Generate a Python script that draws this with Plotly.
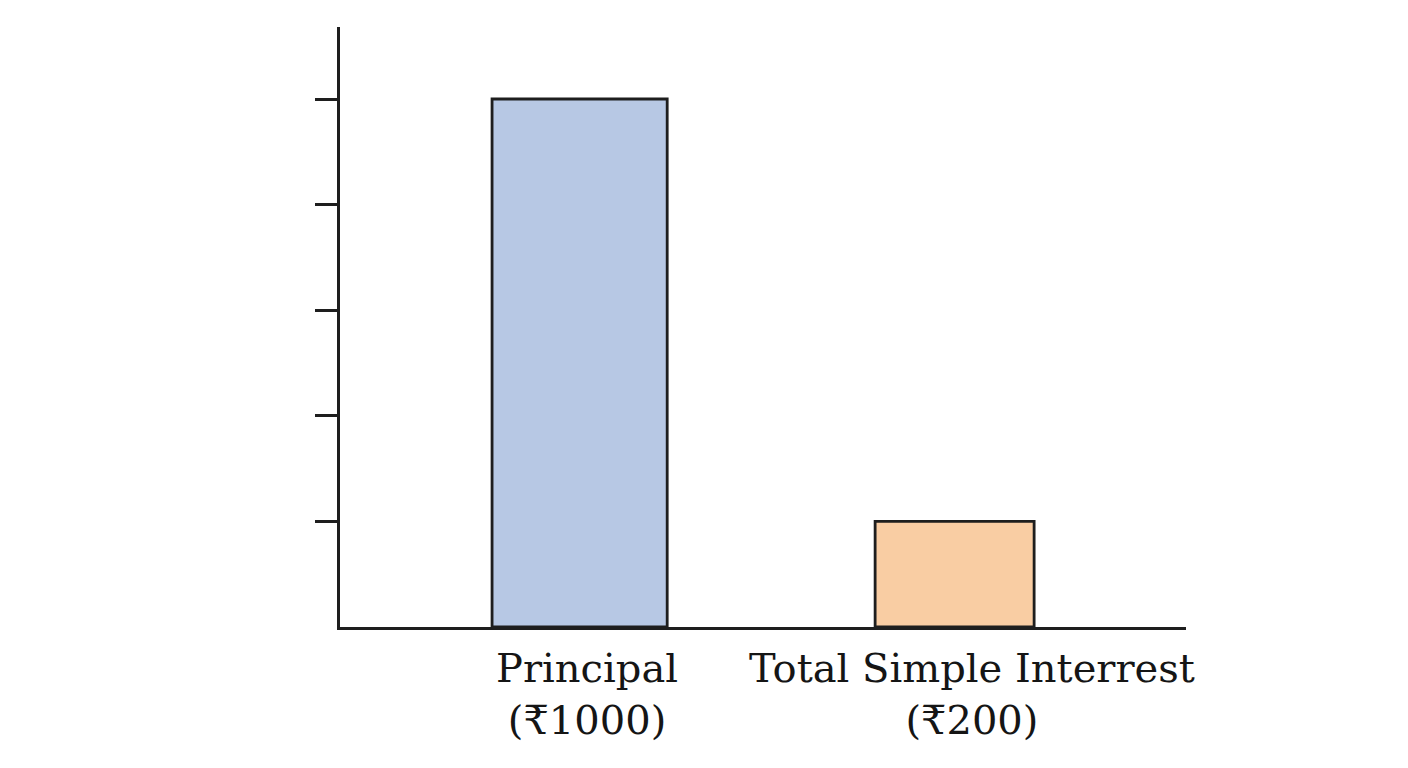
import plotly.graph_objects as go

categories = ["Principal", "Total Simple Interrest"]
label_amounts = ["(₹1000)", "(₹200)"]
values = [1000, 200]
bar_colors = ["#b7c8e4", "#f9cda3"]
bar_widths = [0.467, 0.424]
y_ticks = [200, 400, 600, 800, 1000]

fig = go.Figure()
fig.add_trace(go.Bar(
    x=categories,
    y=values,
    width=bar_widths,
    marker=dict(color=bar_colors, line=dict(color="#1e1e1e", width=2.8)),
    showlegend=False,
    hoverinfo="skip",
))

label_shifts = [7, 17]
for cat, amt, sh in zip(categories, label_amounts, label_shifts):
    fig.add_annotation(
        x=cat, y=0, xref="x", yref="paper",
        text=f"{cat}<br>{amt}",
        showarrow=False, xanchor="center", yanchor="top",
        xshift=sh, yshift=-16,
        font=dict(family="DejaVu Serif, Noto Serif, serif", size=40, color="#151515"),
    )

fig.update_layout(
    width=1408, height=768,
    margin=dict(l=332, r=230, t=19, b=149),
    paper_bgcolor="white", plot_bgcolor="white",
    xaxis=dict(
        type="category",
        range=[-0.639, 1.617],
        showticklabels=False, ticks="",
        showline=True, linecolor="#1e1e1e", linewidth=2.8,
        showgrid=False, zeroline=False,
    ),
    yaxis=dict(
        range=[0, 1136.4],
        tickmode="array", tickvals=y_ticks,
        ticks="outside", ticklen=22, tickwidth=2.8, tickcolor="#1e1e1e",
        showticklabels=False,
        showline=True, linecolor="#1e1e1e", linewidth=2.8,
        showgrid=False, zeroline=False,
    ),
)

fig.write_html("out.html")
